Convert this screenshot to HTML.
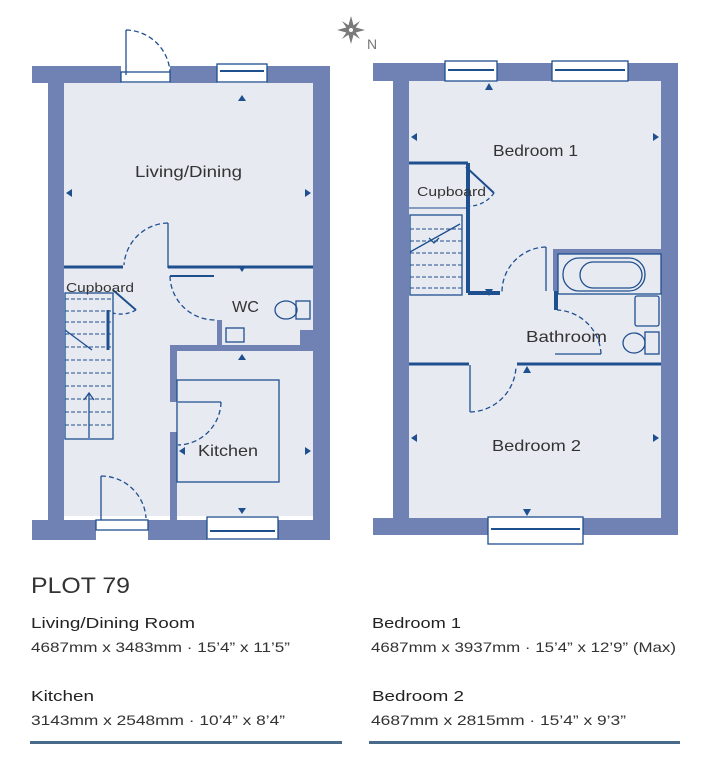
<!DOCTYPE html>
<html><head><meta charset="utf-8"><style>
body{margin:0;background:#fff;}
svg{display:block;}
text{font-family:"Liberation Sans",sans-serif;}
</style></head><body>
<svg width="701" height="773" viewBox="0 0 701 773" xmlns="http://www.w3.org/2000/svg">
<!-- compass -->
<g transform="translate(351,30)" fill="#7a7a7a">
<polygon points="0,-14 3,-3 14,0 3,3 0,14 -3,3 -14,0 -3,-3"/>
<polygon points="-9,-9 0,-3 9,-9 3,0 9,9 0,3 -9,9 -3,0" />
<circle r="2" fill="#fff"/>
</g>
<text x="367" y="49" font-size="14" fill="#777">N</text>

<!-- LEFT PLAN -->
<rect x="64" y="83" width="249" height="433" fill="#e8eaf2"/>
<g fill="#7082b4">
<rect x="32" y="66" width="89" height="17"/>
<rect x="170" y="66" width="47" height="17"/>
<rect x="267" y="66" width="63" height="17"/>
<rect x="48" y="66" width="16" height="474"/>
<rect x="313" y="66" width="17" height="474"/>
<rect x="32" y="520" width="64" height="20"/>
<rect x="148" y="520" width="59" height="20"/>
<rect x="278" y="520" width="52" height="20"/>
<rect x="170" y="345" width="143" height="6"/>
<rect x="300" y="330" width="13" height="21"/>
<rect x="170" y="345" width="7" height="57"/>
<rect x="170" y="432" width="7" height="88"/>
<rect x="217" y="320" width="5" height="28"/>
</g>
<g fill="none" stroke="#1e4f8f" stroke-width="1.3">
<rect x="121" y="72" width="49" height="10" fill="#fff"/>
<rect x="217" y="64" width="50" height="18" fill="#fff"/>
<line x1="220" y1="71" x2="264" y2="71" stroke-width="2"/>
<rect x="96" y="520" width="52" height="10" fill="#fff"/>
<rect x="207" y="517" width="71" height="22" fill="#fff"/>
<line x1="210" y1="531" x2="275" y2="531" stroke-width="2"/>
<line x1="126" y1="30" x2="126" y2="75"/>
<path d="M126,30 A45,45 0 0 1 170,72" stroke-dasharray="5,3"/>
<line x1="101" y1="476" x2="101" y2="520"/>
<path d="M101,476 A45,45 0 0 1 146,518" stroke-dasharray="5,3"/>
<line x1="64" y1="267" x2="123" y2="267" stroke-width="3"/>
<line x1="168" y1="267" x2="313" y2="267" stroke-width="3"/>
<line x1="168" y1="223" x2="168" y2="268"/>
<path d="M168,223 A45,45 0 0 0 124,265" stroke-dasharray="5,3"/>
<line x1="170" y1="276" x2="214" y2="276" stroke-width="2"/>
<path d="M170,276 A45,45 0 0 0 215,320" stroke-dasharray="5,3"/>
<line x1="178" y1="402" x2="221" y2="402"/>
<path d="M221,402 A44,44 0 0 1 178,445" stroke-dasharray="5,3"/>
<rect x="177" y="380" width="102" height="102"/>
<line x1="113" y1="290" x2="136" y2="310" stroke-width="2"/>
<path d="M136,310 A30,30 0 0 1 113,313" stroke-dasharray="4,3"/>
<rect x="65" y="293" width="48" height="146"/>
<g stroke-dasharray="4,2" stroke-width="1">
<line x1="65" y1="299" x2="113" y2="299"/><line x1="65" y1="311" x2="113" y2="311"/>
<line x1="65" y1="322" x2="113" y2="322"/><line x1="65" y1="334" x2="113" y2="334"/>
<line x1="65" y1="347" x2="113" y2="347"/><line x1="65" y1="360" x2="113" y2="360"/>
<line x1="65" y1="373" x2="113" y2="373"/><line x1="65" y1="386" x2="113" y2="386"/>
<line x1="65" y1="399" x2="113" y2="399"/><line x1="65" y1="412" x2="113" y2="412"/>
<line x1="65" y1="425" x2="113" y2="425"/>
</g>
<line x1="108" y1="310" x2="108" y2="350" stroke-width="3"/>
<line x1="65" y1="330" x2="92" y2="350"/>
<line x1="89" y1="393" x2="89" y2="438"/>
<path d="M84,400 L89,393 L94,400"/>
<ellipse cx="286" cy="310" rx="11" ry="9"/>
<rect x="296" y="301" width="14" height="18"/>
<rect x="226" y="328" width="18" height="14"/>
</g>
<g fill="#1e4f8f">
<polygon points="242,95 238,101 246,101"/>
<polygon points="242,272 238,266 246,266"/>
<polygon points="66,193 72,189 72,197"/>
<polygon points="311,193 305,189 305,197"/>
<polygon points="242,354 238,360 246,360"/>
<polygon points="179,451 185,447 185,455"/>
<polygon points="311,451 305,447 305,455"/>
<polygon points="242,514 238,508 246,508"/>
</g>
<g fill="#333" font-size="16">
<text x="135" y="177" textLength="107" lengthAdjust="spacingAndGlyphs">Living/Dining</text>
<text x="232" y="312" textLength="27" lengthAdjust="spacingAndGlyphs">WC</text>
<text x="198" y="456" textLength="60" lengthAdjust="spacingAndGlyphs">Kitchen</text>
<text x="66" y="292" font-size="13" textLength="68" lengthAdjust="spacingAndGlyphs">Cupboard</text>
</g>

<!-- RIGHT PLAN -->
<rect x="409" y="81" width="252" height="437" fill="#e8eaf2"/>
<g fill="#7082b4">
<rect x="373" y="63" width="72" height="18"/>
<rect x="497" y="63" width="55" height="18"/>
<rect x="628" y="63" width="50" height="18"/>
<rect x="393" y="63" width="16" height="472"/>
<rect x="661" y="63" width="17" height="472"/>
<rect x="373" y="518" width="115" height="17"/>
<rect x="583" y="518" width="95" height="17"/>
<rect x="553" y="249" width="108" height="5"/>
<rect x="553" y="249" width="5" height="42"/>
</g>
<g fill="none" stroke="#1e4f8f" stroke-width="1.3">
<rect x="445" y="61" width="52" height="20" fill="#fff"/>
<line x1="448" y1="70" x2="494" y2="70" stroke-width="2"/>
<rect x="552" y="61" width="76" height="20" fill="#fff"/>
<line x1="555" y1="70" x2="625" y2="70" stroke-width="2"/>
<rect x="488" y="517" width="95" height="27" fill="#fff"/>
<line x1="491" y1="529" x2="580" y2="529" stroke-width="2"/>
<line x1="409" y1="163" x2="468" y2="163" stroke-width="3"/>
<line x1="409" y1="208" x2="468" y2="208" stroke-width="1"/>
<line x1="468" y1="163" x2="468" y2="293" stroke-width="4"/>
<line x1="468" y1="293" x2="500" y2="293" stroke-width="4"/>
<line x1="466" y1="167" x2="494" y2="193" stroke-width="2"/>
<path d="M494,193 A30,30 0 0 1 468,206" stroke-dasharray="4,3"/>
<rect x="410" y="215" width="52" height="80"/>
<g stroke-dasharray="4,2" stroke-width="1">
<line x1="410" y1="229" x2="462" y2="229"/><line x1="410" y1="241" x2="462" y2="241"/>
<line x1="410" y1="253" x2="462" y2="253"/><line x1="410" y1="265" x2="462" y2="265"/>
<line x1="410" y1="277" x2="462" y2="277"/><line x1="410" y1="288" x2="462" y2="288"/>
</g>
<line x1="410" y1="252" x2="460" y2="224"/>
<path d="M429,238 L434,243 L439,238"/>
<line x1="546" y1="247" x2="546" y2="291"/>
<path d="M546,247 A45,45 0 0 0 502,292" stroke-dasharray="5,3"/>
<line x1="409" y1="364" x2="469" y2="364" stroke-width="3"/>
<line x1="517" y1="364" x2="661" y2="364" stroke-width="3"/>
<line x1="470" y1="365" x2="470" y2="412"/>
<path d="M470,412 A47,47 0 0 0 516,366" stroke-dasharray="5,3"/>
<line x1="555" y1="354" x2="601" y2="354"/>
<path d="M601,354 A46,46 0 0 0 557,310" stroke-dasharray="5,3"/>
<line x1="556" y1="291" x2="556" y2="310" stroke-width="4"/>
<rect x="558" y="254" width="103" height="40"/>
<rect x="563" y="258" width="82" height="33" rx="16"/>
<rect x="580" y="262" width="62" height="26" rx="13"/>
<rect x="635" y="296" width="24" height="30" rx="2"/>
<ellipse cx="634" cy="343" rx="11" ry="10"/>
<rect x="645" y="332" width="14" height="22"/>
</g>
<g fill="#1e4f8f">
<polygon points="489,83 485,90 493,90"/>
<polygon points="411,137 417,133 417,141"/>
<polygon points="659,137 653,133 653,141"/>
<polygon points="489,296 485,289 493,289"/>
<polygon points="527,366 523,373 531,373"/>
<polygon points="411,438 417,434 417,442"/>
<polygon points="659,438 653,434 653,442"/>
<polygon points="527,516 523,509 531,509"/>
</g>
<g fill="#333" font-size="16">
<text x="493" y="156" textLength="85" lengthAdjust="spacingAndGlyphs">Bedroom 1</text>
<text x="526" y="342" textLength="81" lengthAdjust="spacingAndGlyphs">Bathroom</text>
<text x="492" y="451" textLength="89" lengthAdjust="spacingAndGlyphs">Bedroom 2</text>
<text x="417" y="196" font-size="13" textLength="69" lengthAdjust="spacingAndGlyphs">Cupboard</text>
</g>

<!-- TEXT -->
<text x="31" y="593" font-size="22" fill="#333" textLength="99" lengthAdjust="spacingAndGlyphs">PLOT 79</text>
<g fill="#222" font-size="15">
<text x="31" y="628" textLength="164" lengthAdjust="spacingAndGlyphs">Living/Dining Room</text>
<text x="31" y="701" textLength="63" lengthAdjust="spacingAndGlyphs">Kitchen</text>
<text x="372" y="628" textLength="89" lengthAdjust="spacingAndGlyphs">Bedroom 1</text>
<text x="372" y="701" textLength="92" lengthAdjust="spacingAndGlyphs">Bedroom 2</text>
</g>
<g fill="#333" font-size="14">
<text x="31" y="652" textLength="259" lengthAdjust="spacingAndGlyphs">4687mm x 3483mm · 15’4” x 11’5”</text>
<text x="31" y="725" textLength="254" lengthAdjust="spacingAndGlyphs">3143mm x 2548mm · 10’4” x 8’4”</text>
<text x="371" y="652" textLength="305" lengthAdjust="spacingAndGlyphs">4687mm x 3937mm · 15’4” x 12’9” (Max)</text>
<text x="371" y="725" textLength="255" lengthAdjust="spacingAndGlyphs">4687mm x 2815mm · 15’4” x 9’3”</text>
</g>
<rect x="30" y="741" width="312" height="3" fill="#4a6a8a"/>
<rect x="369" y="741" width="311" height="3" fill="#4a6a8a"/>
</svg>
</body></html>
